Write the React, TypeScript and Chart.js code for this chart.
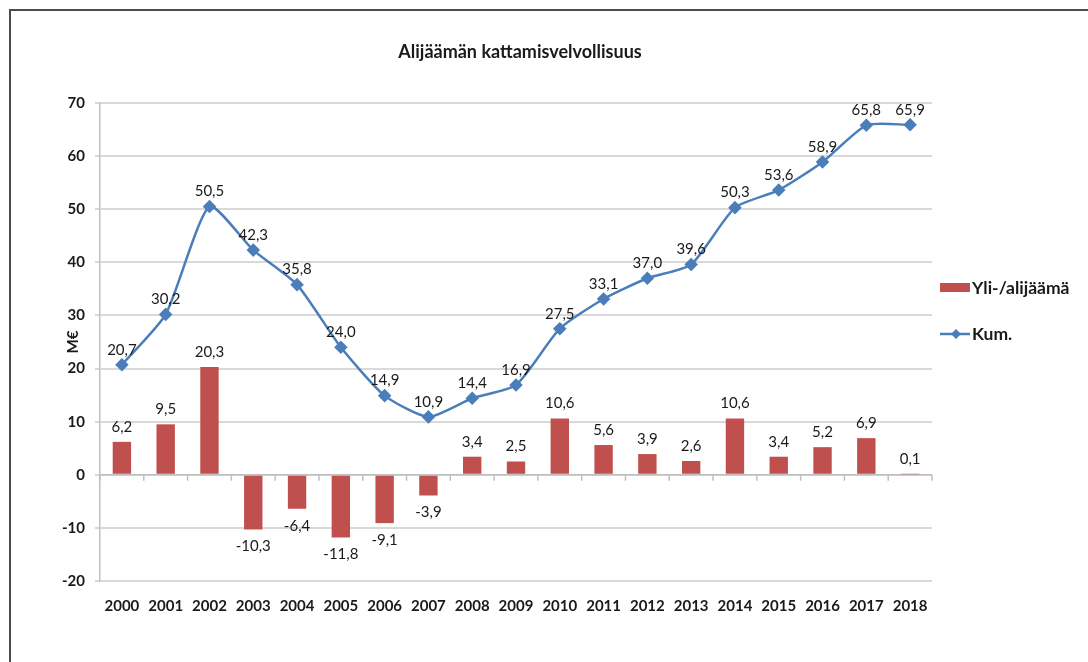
import React, { useEffect, useRef } from "react";
import { Chart, registerables } from "chart.js";
Chart.register(...registerables);

const titleText = "Alijäämän kattamisvelvollisuus";
const yAxisTitle = "M€";
const years = ["2000","2001","2002","2003","2004","2005","2006","2007","2008","2009","2010","2011","2012","2013","2014","2015","2016","2017","2018"];
const surplus = [6.2, 9.5, 20.3, -10.3, -6.4, -11.8, -9.1, -3.9, 3.4, 2.5, 10.6, 5.6, 3.9, 2.6, 10.6, 3.4, 5.2, 6.9, 0.1];
const cumulative = [20.7, 30.2, 50.5, 42.3, 35.8, 24.0, 14.9, 10.9, 14.4, 16.9, 27.5, 33.1, 37.0, 39.6, 50.3, 53.6, 58.9, 65.8, 65.9];
const seriesNames = ["Yli-/alijäämä", "Kum."];
const yMin = -20;
const yMax = 70;
const yStep = 10;

const BAR_COLOR = "#C0504D";
const LINE_COLOR = "#4A7EBB";
const TEXT = "#1a1a1a";
const FONT = "Lato, 'Open Sans', sans-serif";

const fmt = (v: number) => v.toFixed(1).replace(".", ",");

const decor = {
  id: "decor",
  beforeDatasetsDraw(chart: any) {
    const { ctx, chartArea, scales } = chart;
    const x = scales.x, y = scales.y;
    const y0 = y.getPixelForValue(0);
    const n = years.length;
    const w = (chartArea.right - chartArea.left) / n;
    ctx.save();
    ctx.strokeStyle = "#bfbfbf";
    ctx.lineWidth = 1.5;
    ctx.beginPath();
    ctx.moveTo(chartArea.left, y0);
    ctx.lineTo(chartArea.right, y0);
    for (let i = 0; i <= n; i++) {
      const xx = i < n ? x.getPixelForValue(i) - w / 2 : x.getPixelForValue(n - 1) + w / 2;
      ctx.moveTo(xx, y0);
      ctx.lineTo(xx, y0 + 6);
    }
    ctx.stroke();
    ctx.restore();
  },
  afterDatasetsDraw(chart: any) {
    const { ctx } = chart;
    ctx.save();
    ctx.font = `15px ${FONT}`;
    ctx.fillStyle = TEXT;
    ctx.textAlign = "center";
    ctx.textBaseline = "middle";
    const barMeta = chart.getDatasetMeta(0);
    barMeta.data.forEach((el: any, i: number) => {
      const v = surplus[i];
      const yy = v >= 0 ? el.y - 15 : el.y + 17;
      ctx.fillText(fmt(v), el.x, yy);
    });
    const lineMeta = chart.getDatasetMeta(1);
    lineMeta.data.forEach((el: any, i: number) => {
      ctx.fillText(fmt(cumulative[i]), el.x, el.y - 15);
    });
    ctx.restore();
  },
  afterDraw(chart: any) {
    const { ctx, chartArea } = chart;
    ctx.save();
    ctx.fillStyle = TEXT;
    ctx.font = `bold 18px ${FONT}`;
    ctx.textAlign = "center";
    ctx.textBaseline = "middle";
    ctx.fillText(titleText, (chartArea.left + chartArea.right) / 2 + 4, 52);

    // legend
    const lx = chartArea.right + 8;
    ctx.fillStyle = BAR_COLOR;
    ctx.fillRect(lx, 283, 30, 9);
    ctx.strokeStyle = LINE_COLOR;
    ctx.lineWidth = 2.5;
    ctx.beginPath();
    ctx.moveTo(lx, 334);
    ctx.lineTo(lx + 30, 334);
    ctx.stroke();
    ctx.fillStyle = LINE_COLOR;
    ctx.beginPath();
    const dx = lx + 16, dy = 334, r = 5;
    ctx.moveTo(dx, dy - r);
    ctx.lineTo(dx + r, dy);
    ctx.lineTo(dx, dy + r);
    ctx.lineTo(dx - r, dy);
    ctx.closePath();
    ctx.fill();
    ctx.fillStyle = TEXT;
    ctx.font = `bold 17.5px ${FONT}`;
    ctx.textAlign = "left";
    ctx.fillText(seriesNames[0], lx + 32, 288);
    ctx.fillText(seriesNames[1], lx + 32, 334);
    ctx.restore();
  },
};

export default function App() {
  const ref = useRef<HTMLCanvasElement>(null);
  useEffect(() => {
    if (!ref.current) return;
    const chart = new Chart(ref.current, {
      type: "bar",
      data: {
        labels: years,
        datasets: [
          {
            type: "bar",
            label: seriesNames[0],
            data: surplus,
            backgroundColor: BAR_COLOR,
            barPercentage: 0.42,
            categoryPercentage: 1,
            order: 2,
          },
          {
            type: "line",
            label: seriesNames[1],
            data: cumulative,
            borderColor: LINE_COLOR,
            backgroundColor: LINE_COLOR,
            borderWidth: 2.5,
            pointStyle: "rectRot",
            pointRadius: 5,
            pointBackgroundColor: LINE_COLOR,
            pointBorderColor: LINE_COLOR,
            tension: 0.2,
            order: 1,
          } as any,
        ],
      },
      options: {
        responsive: false,
        animation: false,
        layout: { padding: { left: 40, right: 156, top: 103, bottom: 31 } },
        plugins: {
          legend: { display: false },
          title: { display: false },
          tooltip: { enabled: false },
        },
        scales: {
          x: {
            afterFit: (s: any) => { s.height = 50; },
            grid: { display: false, drawTicks: false },
            border: { display: false },
            ticks: {
              color: TEXT,
              padding: 16,
              font: { family: FONT, size: 15, weight: "bold" },
              maxRotation: 0,
              autoSkip: false,
            },
          },
          y: {
            min: yMin,
            max: yMax,
            afterFit: (s: any) => { s.width = 60; },
            ticks: {
              stepSize: yStep,
              color: TEXT,
              padding: 10,
              font: { family: FONT, size: 15, weight: "bold" },
            },
            grid: { color: "#d9d9d9", lineWidth: 2, tickLength: 5 },
            border: { color: "#bfbfbf", width: 1.5 },
            title: {
              display: true,
              text: yAxisTitle,
              color: TEXT,
              font: { family: FONT, size: 15, weight: "bold" },
              padding: { top: 24, bottom: 0 },
            },
          },
        },
      },
      plugins: [decor],
    } as any);
    return () => chart.destroy();
  }, []);
  return (
    <div style={{ position: "fixed", left: 0, top: 0, width: 1088, height: 662, overflow: "hidden", background: "#fff" }}>
      <div style={{ position: "absolute", left: 9, top: 9, width: 1200, height: 800, border: "2px solid #4d4d4d" }} />
      <canvas ref={ref} width={1088} height={662} style={{ position: "absolute", left: 0, top: 0, width: 1088, height: 662 }} />
    </div>
  );
}
